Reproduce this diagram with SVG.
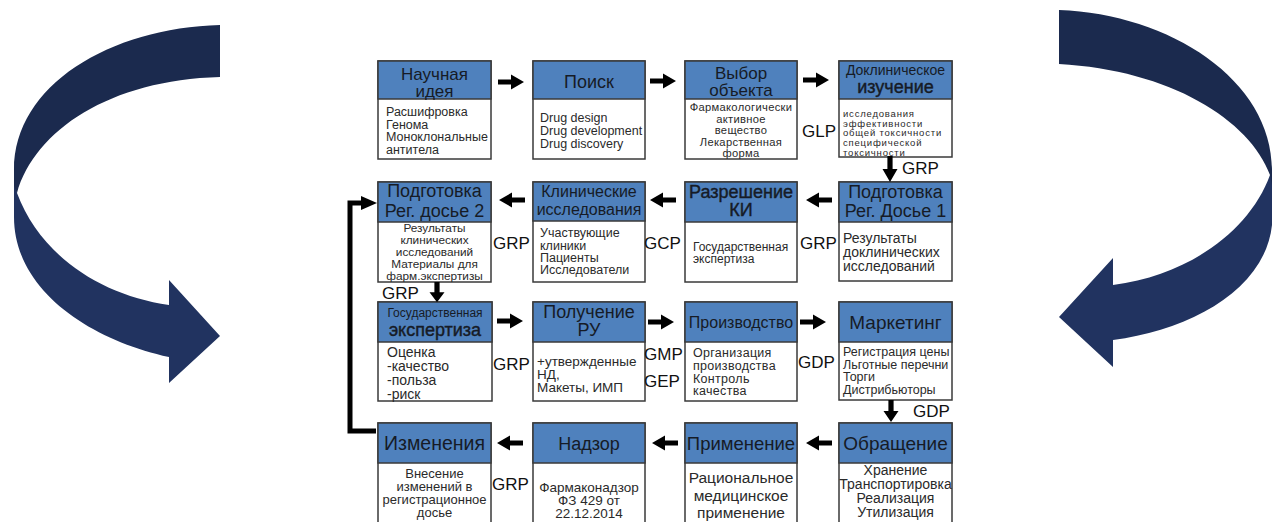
<svg xmlns="http://www.w3.org/2000/svg" width="1272" height="522" viewBox="0 0 1272 522">
<style>
.box{fill:#fff;stroke:#3a3a3a;stroke-width:1.5}
.hd{fill:#4f81bd;stroke:#3a3a3a;stroke-width:1.5}
text{font-family:"Liberation Sans",Arial,sans-serif}
.h{fill:#161b26;text-anchor:middle;font-size:18px}
.hb{stroke:#161b26;stroke-width:0.4px}
.b{fill:#2a2a2a;font-size:12.5px}
.c{text-anchor:middle}
.g{fill:#111;font-size:17px}
.con{fill:#000}
.dk{fill:#1b2a4e}
.lt{fill:#213360}
</style>
<defs>
<path id="ar" d="M0,-2.6 H13 V-7.5 L26,0 L13,7.5 V2.6 H0 Z"/>
<clipPath id="clip12"><rect x="839" y="342" width="113" height="60"/></clipPath>
</defs>
<rect width="1272" height="522" fill="#fff"/>

<g id="cycle-left">
<path class="lt" d="M14,165 L14,217 C14,290 90,340 169,357 L169,383 L220,336 L169,280 L169,305 C100,295 40,255 17,193 Z"/>
<path class="dk" d="M220,25 C110,28 14,85 14,170 L14,186 L17,193 C35,130 110,80 220,77 Z"/>
</g>
<g id="cycle-right">
<path class="lt" d="M1272,165 L1272,225 C1265,290 1190,330 1113,340 L1113,367 L1059,317 L1113,258 L1113,285 C1190,275 1250,230 1270,175 Z"/>
<path class="dk" d="M1059,10 C1170,14 1272,80 1272,170 L1272,185 L1270,175 C1250,120 1170,70 1059,64 Z"/>
</g>

<g id="n1">
<rect class="box" x="378" y="61" width="113" height="98"/>
<rect class="hd" x="378" y="61" width="113" height="38"/>
<text class="h" x="434.5" y="80" style="font-size:17px">Научная</text>
<text class="h" x="434.5" y="97" style="font-size:17px">идея</text>
<text class="b" x="386" y="116">Расшифровка</text>
<text class="b" x="386" y="128.5">Генома</text>
<text class="b" x="386" y="141">Моноклональные</text>
<text class="b" x="386" y="153.5">антитела</text>
</g>
<g id="n2">
<rect class="box" x="533" y="61" width="112" height="98"/>
<rect class="hd" x="533" y="61" width="112" height="38"/>
<text class="h" x="589" y="88">Поиск</text>
<text class="b" x="540" y="122">Drug design</text>
<text class="b" x="540" y="135">Drug development</text>
<text class="b" x="540" y="148">Drug discovery</text>
</g>
<g id="n3">
<rect class="box" x="685" y="61" width="112" height="98"/>
<rect class="hd" x="685" y="61" width="112" height="38"/>
<text class="h" x="741" y="79" style="font-size:17px">Выбор</text>
<text class="h" x="741" y="96" style="font-size:17px">объекта</text>
<g class="b c" style="font-size:11.2px;letter-spacing:0.3px">
<text x="741" y="111">Фармакологически</text>
<text x="741" y="122.5">активное</text>
<text x="741" y="134">вещество</text>
<text x="741" y="145.5">Лекарственная</text>
<text x="741" y="157">форма</text>
</g>
</g>
<g id="n4">
<rect class="box" x="839" y="61" width="113" height="96"/>
<rect class="hd" x="839" y="61" width="113" height="38"/>
<text class="h" x="895.5" y="75" style="font-size:14px">Доклиническое</text>
<text class="h hb" x="895.5" y="93">изучение</text>
<g class="b" style="font-size:9.5px;letter-spacing:0.8px">
<text x="843" y="117">исследования</text>
<text x="843" y="126.7">эффективности</text>
<text x="843" y="136.4">общей токсичности</text>
<text x="843" y="146.1">специфической</text>
<text x="843" y="155.8">токсичности</text>
</g>
</g>

<g id="n5">
<rect class="box" x="378" y="182" width="113" height="100"/>
<rect class="hd" x="378" y="182" width="113" height="40"/>
<text class="h" x="434.5" y="197">Подготовка</text>
<text class="h" x="434.5" y="217">Рег. досье 2</text>
<g class="b c" style="font-size:11.8px">
<text x="434.5" y="232">Результаты</text>
<text x="434.5" y="244">клинических</text>
<text x="434.5" y="256">исследований</text>
<text x="434.5" y="268">Материалы для</text>
<text x="434.5" y="280">фарм.экспертизы</text>
</g>
</g>
<g id="n6">
<rect class="box" x="533" y="182" width="112" height="100"/>
<rect class="hd" x="533" y="182" width="112" height="39"/>
<text class="h" x="589" y="197" style="font-size:16px">Клинические</text>
<text class="h" x="589" y="215" style="font-size:16px">исследования</text>
<text class="b" x="540" y="237">Участвующие</text>
<text class="b" x="540" y="250">клиники</text>
<text class="b" x="540" y="262">Пациенты</text>
<text class="b" x="540" y="274">Исследователи</text>
</g>
<g id="n7">
<rect class="box" x="685" y="182" width="112" height="100"/>
<rect class="hd" x="685" y="182" width="112" height="40"/>
<text class="h hb" x="741" y="198">Разрешение</text>
<text class="h hb" x="741" y="216">КИ</text>
<text class="b" x="693" y="251" style="font-size:12px">Государственная</text>
<text class="b" x="693" y="263" style="font-size:12px">экспертиза</text>
</g>
<g id="n8">
<rect class="box" x="839" y="182" width="113" height="99"/>
<rect class="hd" x="839" y="182" width="113" height="40"/>
<text class="h" x="895.5" y="198">Подготовка</text>
<text class="h" x="895.5" y="217">Рег. Досье 1</text>
<text class="b" x="843" y="243" style="font-size:14px">Результаты</text>
<text class="b" x="843" y="257" style="font-size:14px">доклинических</text>
<text class="b" x="843" y="271" style="font-size:14px">исследований</text>
</g>

<g id="n9">
<rect class="box" x="378" y="302" width="114" height="99"/>
<rect class="hd" x="378" y="302" width="114" height="40"/>
<text class="h" x="435" y="317" style="font-size:12px">Государственная</text>
<text class="h hb" x="435" y="336">экспертиза</text>
<g class="b" style="font-size:14px">
<text x="387" y="357">Оценка</text>
<text x="387" y="371">-качество</text>
<text x="387" y="385">-польза</text>
<text x="387" y="399">-риск</text>
</g>
</g>
<g id="n10">
<rect class="box" x="533" y="302" width="112" height="99"/>
<rect class="hd" x="533" y="302" width="112" height="40"/>
<text class="h" x="589" y="318">Получение</text>
<text class="h" x="589" y="336">РУ</text>
<g class="b" style="font-size:13.5px">
<text x="537" y="366">+утвержденные</text>
<text x="537" y="379">НД,</text>
<text x="537" y="392">Макеты, ИМП</text>
</g>
</g>
<g id="n11">
<rect class="box" x="685" y="302" width="112" height="99"/>
<rect class="hd" x="685" y="302" width="112" height="40"/>
<text class="h" x="741" y="328" style="font-size:16px">Производство</text>
<g class="b" style="letter-spacing:0.3px">
<text x="693" y="357">Организация</text>
<text x="693" y="370">производства</text>
<text x="693" y="383">Контроль</text>
<text x="693" y="395">качества</text>
</g>
</g>
<g id="n12">
<rect class="box" x="839" y="302" width="113" height="98"/>
<rect class="hd" x="839" y="302" width="113" height="40"/>
<text class="h" x="895.5" y="329" style="font-size:19px">Маркетинг</text>
<g class="b" clip-path="url(#clip12)">
<text x="843" y="356">Регистрация цены</text>
<text x="843" y="368.5">Льготные перечни</text>
<text x="843" y="381">Торги</text>
<text x="843" y="393.5">Дистрибьюторы</text>
</g>
</g>

<g id="n13">
<rect class="box" x="378" y="423" width="113" height="120"/>
<rect class="hd" x="378" y="423" width="113" height="40"/>
<text class="h" x="434.5" y="450" style="font-size:19.5px">Изменения</text>
<g class="b c" style="font-size:13px">
<text x="434.5" y="478">Внесение</text>
<text x="434.5" y="491">изменений в</text>
<text x="434.5" y="504">регистрационное</text>
<text x="434.5" y="517">досье</text>
</g>
</g>
<g id="n14">
<rect class="box" x="533" y="423" width="112" height="120"/>
<rect class="hd" x="533" y="423" width="112" height="40"/>
<text class="h" x="589" y="450">Надзор</text>
<g class="b c" style="font-size:13.5px">
<text x="589" y="492">Фармаконадзор</text>
<text x="589" y="505">ФЗ 429 от</text>
<text x="589" y="518">22.12.2014</text>
</g>
</g>
<g id="n15">
<rect class="box" x="685" y="423" width="112" height="120"/>
<rect class="hd" x="685" y="423" width="112" height="40"/>
<text class="h" x="741" y="450" style="font-size:18.5px">Применение</text>
<g class="b c" style="font-size:15.5px">
<text x="741" y="483">Рациональное</text>
<text x="741" y="501">медицинское</text>
<text x="741" y="518">применение</text>
</g>
</g>
<g id="n16">
<rect class="box" x="839" y="423" width="113" height="120"/>
<rect class="hd" x="839" y="423" width="113" height="40"/>
<text class="h" x="895.5" y="450" style="font-size:19px">Обращение</text>
<g class="b c" style="font-size:14px">
<text x="895.5" y="475">Хранение</text>
<text x="895.5" y="489">Транспортировка</text>
<text x="895.5" y="503">Реализация</text>
<text x="895.5" y="517">Утилизация</text>
</g>
</g>

<g id="connectors" class="con">
<use href="#ar" transform="translate(498,82)"/>
<use href="#ar" transform="translate(650,81)"/>
<use href="#ar" transform="translate(803,80)"/>
<use href="#ar" transform="translate(890,156) rotate(90)"/>
<use href="#ar" transform="translate(832,200) rotate(180)"/>
<use href="#ar" transform="translate(676,200) rotate(180)"/>
<use href="#ar" transform="translate(525,200) rotate(180)"/>
<use href="#ar" transform="translate(437,282) rotate(90) scale(0.78,1)"/>
<use href="#ar" transform="translate(497,321)"/>
<use href="#ar" transform="translate(648,322)"/>
<use href="#ar" transform="translate(800,322)"/>
<use href="#ar" transform="translate(891,400) rotate(90) scale(0.85,1)"/>
<use href="#ar" transform="translate(832,443) rotate(180)"/>
<use href="#ar" transform="translate(678,443) rotate(180)"/>
<use href="#ar" transform="translate(523,443) rotate(180)"/>
<path d="M376,431 H350 V203 H363" fill="none" stroke="#000" stroke-width="5"/>
<path d="M361,196 L377,203 L361,210 Z"/>
</g>

<g id="labels" class="g">
<text x="802" y="137">GLP</text>
<text x="902" y="174">GRP</text>
<text x="493" y="249">GRP</text>
<text x="644" y="249">GCP</text>
<text x="800" y="249">GRP</text>
<text x="382" y="299">GRP</text>
<text x="493" y="370">GRP</text>
<text x="644" y="360">GMP</text>
<text x="644" y="387">GEP</text>
<text x="798" y="368">GDP</text>
<text x="913" y="417">GDP</text>
<text x="492" y="490">GRP</text>
</g>
</svg>
